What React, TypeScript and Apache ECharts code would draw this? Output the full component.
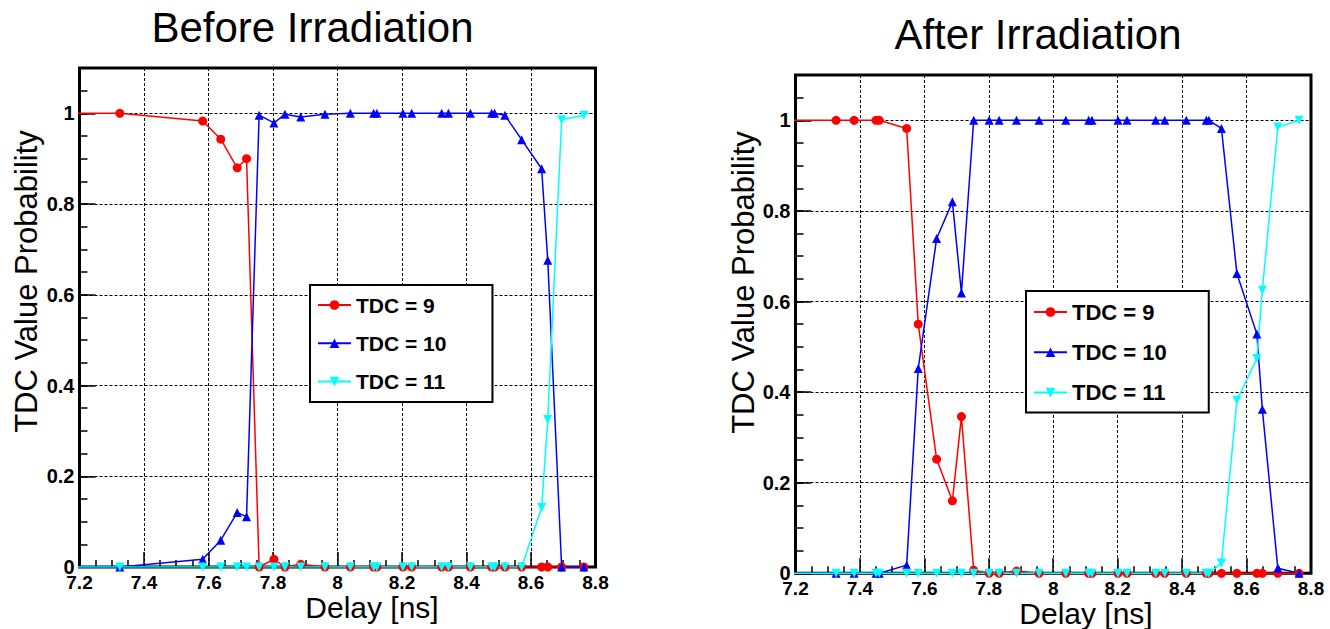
import React, { useEffect, useRef } from 'react';
import * as echarts from 'echarts';

// ---------- Data: Before Irradiation ----------
const xBefore = [7.1, 7.325, 7.582, 7.638, 7.689, 7.718, 7.757, 7.803, 7.837, 7.886, 7.961, 8.04, 8.112, 8.122, 8.203, 8.23, 8.323, 8.344, 8.412, 8.478, 8.487, 8.519, 8.571, 8.633, 8.652, 8.695, 8.764];
const tdc9Before = [1, 1, 0.983, 0.943, 0.88, 0.9, 0, 0.017, 0, 0.006, 0, 0, 0, 0, 0, 0, 0, 0, 0, 0, 0, 0, 0, 0, 0, 0, 0];
const tdc10Before = [0, 0, 0.017, 0.059, 0.12, 0.111, 0.996, 0.979, 0.998, 0.992, 0.998, 1, 1, 1, 1, 1, 1, 1, 1, 1, 1, 0.996, 0.942, 0.878, 0.676, 0, 0];
const tdc11Before = [0, 0, 0, 0, 0, 0, 0, 0, 0, 0, 0, 0, 0, 0, 0, 0, 0, 0, 0, 0, 0, 0, 0, 0.131, 0.325, 0.986, 0.996];

// ---------- Data: After Irradiation ----------
const xAfter = [7.1, 7.326, 7.382, 7.45, 7.46, 7.545, 7.581, 7.638, 7.687, 7.715, 7.753, 7.801, 7.832, 7.886, 7.956, 8.039, 8.11, 8.12, 8.201, 8.229, 8.318, 8.346, 8.413, 8.475, 8.483, 8.522, 8.57, 8.632, 8.649, 8.697, 8.763];
const tdc9After = [1, 1, 1, 1, 1, 0.982, 0.55, 0.252, 0.16, 0.346, 0.007, 0, 0, 0.005, 0, 0, 0, 0, 0, 0, 0, 0, 0, 0, 0, 0, 0, 0, 0, 0, 0];
const tdc10After = [0, 0, 0, 0, 0, 0.018, 0.452, 0.739, 0.82, 0.619, 1, 1, 1, 1, 1, 1, 1, 1, 1, 1, 1, 1, 1, 1, 1, 0.982, 0.662, 0.528, 0.362, 0.011, 0];
const tdc11After = [0, 0, 0, 0, 0, 0, 0, 0, 0, 0, 0, 0, 0, 0, 0, 0, 0, 0, 0, 0, 0, 0, 0, 0, 0, 0.023, 0.382, 0.474, 0.625, 0.985, 1];

const seriesNames = ['TDC = 9', 'TDC = 10', 'TDC = 11'];
const titles = ['Before Irradiation', 'After Irradiation'];
const xTitle = 'Delay [ns]';
const yTitle = 'TDC Value Probability';

const FONT = "'Liberation Sans', Arial, Helvetica, sans-serif";
const RED = '#ff0000';
const BLUE = '#0000ff';
const CYAN = '#00ffff';

const pairs = (xs: number[], ys: number[]) => xs.map((x, i) => [x, ys[i]]);
const fmt = (v: number) => String(Math.round(v * 10) / 10);

export default function App() {
  const ref = useRef<HTMLDivElement>(null);

  useEffect(() => {
    if (!ref.current) return;
    const chart = echarts.init(ref.current, null, { renderer: 'svg' });

    const grids = [
      { left: 79.5, top: 68, width: 516, height: 499 },
      { left: 795.5, top: 75, width: 515.5, height: 498.3 },
    ];

    const xAxes = grids.map((_, g) => ({
      type: 'value',
      gridIndex: g,
      min: 7.2,
      max: 8.8,
      interval: 0.2,
      axisLine: { show: false },
      axisTick: { show: true, inside: true, length: 15, lineStyle: { color: '#000', width: 1.5 } },
      minorTick: { show: true, splitNumber: 4, length: 7, lineStyle: { color: '#000', width: 1.5 } },
      axisLabel: {
        margin: 6,
        fontSize: 19,
        fontWeight: 'bold',
        color: '#000',
        fontFamily: FONT,
        showMinLabel: true,
        showMaxLabel: true,
        formatter: (v: number) => fmt(v),
      },
      splitLine: { show: true, lineStyle: { color: '#000', width: 1, type: [3, 2] } },
    }));

    const yAxes: any[] = [];
    grids.forEach((_, g) => {
      yAxes.push({
        type: 'value',
        gridIndex: g,
        position: 'left',
        min: 0,
        max: 1.1,
        interval: 0.2,
        axisLine: { show: false },
        axisTick: { show: true, inside: true, length: 16, lineStyle: { color: '#000', width: 1.5 } },
        axisLabel: {
          margin: 5,
          fontSize: 20,
          fontWeight: 'bold',
          color: '#000',
          fontFamily: FONT,
          formatter: (v: number) => (v > 1.05 ? '' : fmt(v)),
        },
        splitLine: { show: true, lineStyle: { color: '#000', width: 1, type: [3, 2] } },
      });
      // minor ticks every 0.05
      yAxes.push({
        type: 'value',
        gridIndex: g,
        position: 'left',
        min: 0,
        max: 1.1,
        interval: 0.05,
        axisLine: { show: false },
        axisTick: { show: true, inside: true, length: 8, lineStyle: { color: '#000', width: 1.5 } },
        axisLabel: { show: false },
        splitLine: { show: false },
      });
    });

    const mk = (g: number, name: string, xs: number[], ys: number[], color: string, symbol: string, rotate: number) => ({
      type: 'line',
      name,
      xAxisIndex: g,
      yAxisIndex: g * 2,
      data: pairs(xs, ys),
      symbol,
      symbolSize: 9,
      symbolRotate: rotate,
      showSymbol: true,
      clip: true,
      lineStyle: { color, width: 1.5 },
      itemStyle: { color },
      emphasis: { disabled: true },
    });

    const series = [
      mk(0, seriesNames[0], xBefore, tdc9Before, RED, 'circle', 0),
      mk(0, seriesNames[1], xBefore, tdc10Before, BLUE, 'triangle', 0),
      mk(0, seriesNames[2], xBefore, tdc11Before, CYAN, 'triangle', 180),
      mk(1, seriesNames[0], xAfter, tdc9After, RED, 'circle', 0),
      mk(1, seriesNames[1], xAfter, tdc10After, BLUE, 'triangle', 0),
      mk(1, seriesNames[2], xAfter, tdc11After, CYAN, 'triangle', 180),
    ];

    const legendBase = {
      orient: 'vertical',
      data: seriesNames,
      itemWidth: 33,
      itemHeight: 12,
      selectedMode: false,
      borderColor: '#000',
      borderWidth: 2,
      backgroundColor: '#fff',
      borderRadius: 0,
    };

    const legends = [
      {
        ...legendBase,
        left: 310,
        top: 285,
        itemGap: 17.3,
        padding: [9.5, 46, 10, 7],
        textStyle: { fontFamily: FONT, fontSize: 21, fontWeight: 'bold', color: '#000', lineHeight: 21 },
      },
      {
        ...legendBase,
        left: 1026,
        top: 291,
        itemGap: 18.3,
        padding: [10, 42, 9, 7],
        textStyle: { fontFamily: FONT, fontSize: 22, fontWeight: 'bold', color: '#000', lineHeight: 21 },
      },
    ];

    const txt = (text: string, x: number, y: number, size: number, rotation = 0) => ({
      type: 'text',
      x,
      y,
      rotation,
      style: {
        text,
        fontFamily: FONT,
        fontSize: size,
        fill: '#000',
        align: 'center',
        verticalAlign: 'middle',
      },
      z: 10,
    });

    const graphic = [
      txt(titles[0], 312.5, 27, 42),
      txt(titles[1], 1038, 34, 42),
      txt(xTitle, 372, 607, 30),
      txt(xTitle, 1086, 613, 30),
      txt(yTitle, 26, 281.5, 31, Math.PI / 2),
      txt(yTitle, 743, 282.5, 31, Math.PI / 2),
    ];

    chart.setOption({
      animation: false,
      backgroundColor: '#fff',
      grid: grids.map((g) => ({
        ...g,
        show: true,
        borderColor: '#000',
        borderWidth: 3,
        backgroundColor: 'transparent',
        containLabel: false,
      })),
      xAxis: xAxes,
      yAxis: yAxes,
      legend: legends,
      series,
      graphic,
    });

    return () => chart.dispose();
  }, []);

  return (
    <div
      ref={ref}
      style={{ position: 'fixed', left: 0, top: 0, width: 1330, height: 629, background: '#fff' }}
    />
  );
}
